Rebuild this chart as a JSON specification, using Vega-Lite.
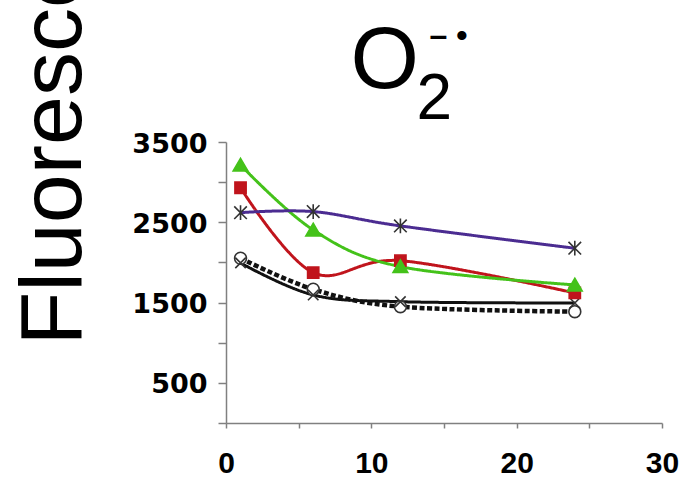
{
  "$schema": "https://vega.github.io/schema/vega-lite/v6.json",
  "autosize": {"type": "none"},
  "padding": {"left": 226, "top": 142, "right": 22, "bottom": 54},
  "width": 436,
  "height": 281,
  "background": "white",
  "config": {"view": {"stroke": null}},
  "data": {
    "values": [
      {"series": "s1", "time": 1, "value": 2052},
      {"series": "s1", "time": 6, "value": 1666},
      {"series": "s1", "time": 12, "value": 1449},
      {"series": "s1", "time": 24, "value": 1387},
      {"series": "s2", "time": 1, "value": 1994},
      {"series": "s2", "time": 6, "value": 1595},
      {"series": "s2", "time": 12, "value": 1511},
      {"series": "s2", "time": 24, "value": 1495},
      {"series": "s3", "time": 1, "value": 2930},
      {"series": "s3", "time": 6, "value": 1873},
      {"series": "s3", "time": 12, "value": 2022},
      {"series": "s3", "time": 24, "value": 1620},
      {"series": "s4", "time": 1, "value": 3214},
      {"series": "s4", "time": 6, "value": 2405},
      {"series": "s4", "time": 12, "value": 1948},
      {"series": "s4", "time": 24, "value": 1720},
      {"series": "s5", "time": 1, "value": 2620},
      {"series": "s5", "time": 6, "value": 2633},
      {"series": "s5", "time": 12, "value": 2455},
      {"series": "s5", "time": 24, "value": 2177}
    ]
  },
  "layer": [
    {
      "mark": {"type": "line", "interpolate": "cardinal"},
      "encoding": {
        "x": {
          "field": "time", "type": "quantitative",
          "scale": {"domain": [0, 30], "nice": false},
          "axis": {
            "orient": "bottom", "grid": false,
            "values": [0, 5, 10, 15, 20, 25, 30],
            "labelExpr": "datum.value % 10 == 0 ? datum.label : ''",
            "labelFont": "Liberation Sans", "labelFontWeight": "bold", "labelFontSize": 30,
            "labelColor": "black", "labelPadding": 20, "labelFlush": false, "labelOverlap": false,
            "tickSize": 5, "tickColor": "#808080", "tickWidth": 1.5,
            "domainColor": "#808080", "domainWidth": 1.5,
            "title": "O",
            "titleFont": "Liberation Sans", "titleFontSize": 88, "titleFontWeight": "normal",
            "titleColor": "black", "titleAngle": 0, "titleAlign": "left",
            "titleBaseline": "alphabetic", "titleX": 124, "titleY": -336
          }
        },
        "y": {
          "field": "value", "type": "quantitative",
          "scale": {"domain": [0, 3500], "nice": false},
          "axis": {
            "orient": "left", "grid": false,
            "values": [0, 500, 1000, 1500, 2000, 2500, 3000, 3500],
            "format": "d",
            "labelExpr": "datum.value % 1000 == 500 ? datum.label : ''",
            "labelFont": "DejaVu Sans", "labelFontWeight": "bold", "labelFontSize": 27,
            "labelColor": "black", "labelPadding": 11, "labelOffset": 2,
            "labelFlush": false, "labelOverlap": false,
            "tickSize": 8, "tickColor": "#808080", "tickWidth": 1.5,
            "domainColor": "#808080", "domainWidth": 1.5,
            "title": "Fluorescence",
            "titleFont": "Liberation Sans", "titleFontSize": 88, "titleFontWeight": "normal",
            "titleColor": "black", "titleAngle": 270, "titleAlign": "left",
            "titleBaseline": "alphabetic", "titleX": -146, "titleY": 203
          }
        },
        "color": {
          "field": "series", "type": "nominal", "legend": null,
          "scale": {"domain": ["s1", "s2", "s3", "s4", "s5"],
                    "range": ["#111111", "#111111", "#c0141c", "#44c21a", "#4b2c91"]}
        },
        "strokeDash": {
          "field": "series", "type": "nominal", "legend": null,
          "scale": {"domain": ["s1", "s2", "s3", "s4", "s5"],
                    "range": [[5, 2.5], [1, 0], [1, 0], [1, 0], [1, 0]]}
        },
        "strokeWidth": {
          "condition": {"test": "datum.series == 's1'", "value": 4.5},
          "value": 3
        }
      }
    },
    {
      "mark": {"type": "point", "filled": true, "size": 196, "strokeWidth": 1.6, "opacity": 1},
      "encoding": {
        "x": {"field": "time", "type": "quantitative", "axis": null},
        "y": {"field": "value", "type": "quantitative", "axis": null},
        "shape": {
          "field": "series", "type": "nominal", "legend": null,
          "scale": {"domain": ["s1", "s2", "s3", "s4", "s5"],
                    "range": [
                      "M-0.85,0A0.85,0.85 0 1,0 0.85,0A0.85,0.85 0 1,0 -0.85,0Z",
                      "M-0.75,-0.75L0.75,0.75M-0.75,0.75L0.75,-0.75",
                      "M-0.8,-0.8H0.8V0.8H-0.8Z",
                      "M0,-0.95L1.05,0.85L-1.05,0.85Z",
                      "M-0.9,-0.9L0.9,0.9M-0.9,0.9L0.9,-0.9M0,-1.05L0,1.05"
                    ]}
        },
        "fill": {
          "field": "series", "type": "nominal", "legend": null,
          "scale": {"domain": ["s1", "s2", "s3", "s4", "s5"],
                    "range": ["white", "transparent", "#c0141c", "#44c21a", "transparent"]}
        },
        "stroke": {
          "field": "series", "type": "nominal", "legend": null,
          "scale": {"domain": ["s1", "s2", "s3", "s4", "s5"],
                    "range": ["#333333", "#333333", "#c0141c", "#44c21a", "#333333"]}
        }
      }
    },
    {
      "mark": {"type": "point", "opacity": 0},
      "encoding": {
        "x": {
          "field": "time", "type": "quantitative",
          "axis": {
            "orient": "top", "domain": false, "ticks": false, "labels": false, "grid": false,
            "title": "– •",
            "titleFont": "Liberation Sans", "titleFontSize": 32, "titleFontWeight": "bold",
            "titleColor": "black", "titleAngle": 0, "titleAlign": "left",
            "titleBaseline": "alphabetic", "titleX": 203, "titleY": -97
          }
        },
        "y": {
          "field": "value", "type": "quantitative",
          "axis": {
            "orient": "right", "domain": false, "ticks": false, "labels": false, "grid": false,
            "title": "2",
            "titleFont": "Liberation Sans", "titleFontSize": 64, "titleFontWeight": "normal",
            "titleColor": "black", "titleAngle": 0, "titleAlign": "left",
            "titleBaseline": "alphabetic", "titleX": -246, "titleY": -24
          }
        }
      }
    }
  ],
  "resolve": {"axis": {"x": "independent", "y": "independent"}}
}
